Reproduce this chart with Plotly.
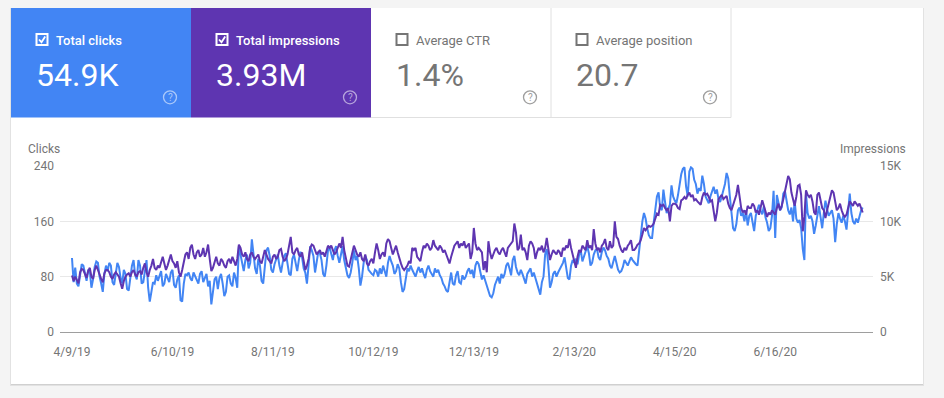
import plotly.graph_objects as go
import pandas as pd

# ---------------- data (daily) ----------------
c_apr19 = [107, 72, 93, 70, 66, 86, 98, 96, 82, 74, 90, 88, 64, 76, 94, 102, 100, 80, 70, 58, 84, 96]
c_may19 = [88, 100, 96, 72, 68, 86, 100, 94, 78, 70, 90, 84, 62, 60, 80, 96, 104, 82, 76, 104, 96, 70, 72, 86, 104, 64, 44, 58, 72, 70, 82]
c_jun19 = [74, 80, 88, 66, 70, 84, 78, 72, 86, 90, 68, 64, 76, 82, 46, 44, 70, 84, 82, 86, 78, 74, 86, 80, 76, 70, 84, 88, 72, 78]
c_jul19 = [84, 66, 74, 40, 56, 76, 80, 62, 78, 84, 70, 52, 58, 80, 82, 70, 66, 86, 78, 64, 124, 110, 96, 88, 104, 112, 92, 100, 134, 116, 92]
c_aug19 = [84, 106, 96, 74, 70, 96, 118, 122, 110, 90, 86, 98, 104, 112, 96, 86, 100, 110, 114, 98, 84, 82, 106, 112, 98, 88, 104, 116, 108, 92, 86]
c_sep19 = [70, 96, 124, 118, 110, 86, 100, 116, 114, 104, 84, 80, 96, 118, 122, 112, 104, 118, 124, 110, 100, 112, 124, 104, 90, 82, 78, 86, 100, 118]
c_oct19 = [104, 110, 92, 67, 80, 100, 110, 104, 90, 86, 84, 82, 90, 88, 80, 92, 84, 96, 86, 80, 100, 110, 102, 96, 84, 88, 98, 92, 72, 58, 62]
c_nov19 = [78, 92, 88, 96, 90, 84, 80, 88, 94, 86, 92, 84, 78, 90, 96, 88, 84, 80, 92, 86, 90, 82, 78, 70, 66, 60, 58, 72, 86, 70]
c_dec19 = [68, 82, 88, 72, 70, 82, 76, 80, 88, 92, 84, 90, 78, 96, 102, 98, 84, 76, 82, 74, 66, 58, 52, 50, 56, 68, 74, 80, 70, 84, 78]
c_jan20 = [84, 96, 100, 92, 82, 104, 110, 94, 86, 82, 90, 84, 76, 70, 84, 88, 92, 80, 86, 78, 70, 60, 54, 72, 80, 112, 120, 96, 64, 72, 84]
c_feb20 = [88, 80, 86, 90, 94, 100, 108, 90, 78, 76, 96, 104, 100, 106, 98, 112, 118, 102, 110, 116, 124, 114, 96, 100, 112, 118, 120, 108, 104]
c_mar20 = [116, 122, 118, 110, 106, 96, 92, 102, 110, 100, 90, 86, 88, 94, 104, 100, 96, 102, 108, 104, 100, 98, 96, 120, 140, 160, 172, 164, 150, 140, 136]
c_apr20 = [136, 158, 178, 196, 202, 180, 176, 206, 188, 172, 178, 184, 212, 196, 190, 186, 198, 214, 228, 236, 238, 210, 196, 232, 238, 236, 220, 214, 200, 208]
c_may20 = [204, 226, 214, 196, 190, 186, 196, 204, 210, 200, 206, 192, 188, 196, 204, 214, 230, 222, 196, 168, 150, 146, 156, 176, 180, 168, 172, 160, 176, 154, 168]
c_jun20 = [172, 160, 146, 168, 178, 184, 176, 170, 182, 166, 158, 146, 150, 168, 204, 136, 198, 186, 176, 180, 200, 204, 188, 176, 170, 180, 160, 190, 164, 158]
c_jul20 = [162, 150, 120, 104, 200, 172, 164, 168, 160, 142, 154, 170, 182, 166, 150, 172, 190, 178, 168, 172, 176, 164, 130, 156, 172, 164, 158, 168, 160, 148, 178]
c_aug20 = [200, 172, 160, 156, 164, 158, 168, 176, 180]

# impressions, in thousands
i_apr19 = [5.1, 4.6, 5.0, 4.7, 4.4, 5.4, 5.7, 5.6, 5.2, 4.9, 5.5, 5.8, 5.0, 4.8, 5.6, 6.0, 5.6, 5.1, 4.8, 4.5, 5.3, 5.6]
i_may19 = [5.6, 5.4, 5.0, 4.8, 5.2, 5.4, 5.2, 5.0, 4.4, 3.9, 4.6, 5.0, 5.2, 5.3, 5.0, 5.4, 5.6, 5.2, 5.0, 5.4, 5.5, 5.2, 5.8, 6.2, 5.4, 5.0, 5.6, 6.0, 6.6, 5.8, 5.6]
i_jun19 = [6.0, 5.8, 6.4, 6.8, 6.2, 5.6, 6.0, 6.6, 7.0, 6.4, 6.2, 5.8, 6.4, 5.4, 5.0, 5.6, 6.4, 7.0, 7.2, 6.6, 7.6, 7.9, 7.0, 6.6, 7.2, 7.4, 6.8, 7.0, 7.6, 6.8]
i_jul19 = [7.2, 7.9, 6.6, 5.5, 5.8, 6.4, 6.8, 6.2, 6.0, 6.6, 6.4, 6.0, 5.8, 6.4, 6.6, 6.2, 6.8, 6.4, 6.0, 6.6, 7.9, 7.6, 7.0, 6.8, 7.2, 6.6, 6.4, 7.0, 7.2, 6.8, 6.6]
i_aug19 = [6.8, 7.0, 6.4, 6.2, 6.8, 7.4, 7.0, 6.6, 6.4, 6.2, 6.8, 7.0, 6.6, 6.8, 7.4, 7.5, 6.8, 6.4, 6.6, 7.0, 7.8, 8.6, 7.2, 7.0, 7.4, 7.6, 7.0, 6.8, 7.2, 6.4, 5.6]
i_sep19 = [6.0, 6.6, 7.6, 7.9, 7.8, 7.4, 7.0, 7.2, 7.4, 7.0, 7.2, 6.8, 7.4, 7.8, 7.6, 7.8, 7.4, 7.0, 7.2, 7.6, 8.0, 7.6, 8.6, 7.4, 6.8, 6.0, 5.9, 6.6, 7.4, 7.8]
i_oct19 = [7.4, 7.0, 6.8, 7.2, 6.6, 6.4, 7.0, 6.2, 6.0, 6.4, 6.6, 6.2, 7.2, 8.0, 7.4, 6.6, 7.0, 7.2, 6.8, 8.0, 8.4, 8.2, 7.6, 7.0, 7.4, 7.8, 7.2, 6.6, 6.2, 5.8, 5.6]
i_nov19 = [5.8, 6.0, 6.4, 6.2, 7.6, 7.4, 7.6, 6.8, 6.6, 6.4, 7.2, 7.8, 7.6, 8.0, 7.8, 7.4, 7.6, 8.3, 7.8, 7.6, 7.4, 7.8, 7.6, 7.2, 7.4, 7.0, 6.6, 6.2, 6.8, 7.4]
i_dec19 = [7.8, 8.0, 8.2, 7.6, 8.0, 7.8, 8.2, 7.6, 7.8, 8.0, 6.6, 7.2, 9.4, 8.0, 7.4, 7.6, 7.4, 7.2, 5.6, 6.4, 5.4, 8.2, 7.2, 6.6, 7.0, 7.4, 7.6, 7.2, 7.0, 7.4, 7.6]
i_jan20 = [7.2, 6.8, 7.6, 7.8, 8.0, 8.2, 9.8, 9.0, 7.4, 7.6, 8.8, 7.4, 7.6, 7.2, 6.5, 7.8, 8.2, 8.0, 7.6, 6.6, 7.2, 7.6, 7.4, 7.8, 7.2, 7.6, 8.5, 7.4, 6.5, 7.0, 7.4]
i_feb20 = [7.2, 7.0, 7.4, 7.2, 6.8, 7.6, 7.4, 7.8, 7.6, 8.4, 7.6, 6.9, 6.4, 5.8, 6.8, 7.4, 7.2, 7.8, 7.6, 7.4, 8.3, 7.6, 7.8, 7.4, 9.3, 8.0, 7.4, 7.6, 7.2]
i_mar20 = [7.8, 8.0, 8.4, 7.6, 7.4, 8.2, 7.6, 7.8, 10.0, 8.6, 8.4, 7.8, 7.4, 7.2, 7.6, 7.4, 7.8, 8.0, 8.3, 7.4, 7.4, 7.6, 7.9, 8.0, 8.3, 8.8, 9.4, 9.2, 9.4, 9.6, 9.5]
i_apr20 = [9.6, 9.8, 10.2, 10.7, 10.6, 11.5, 11.4, 11.5, 11.2, 11.0, 11.2, 10.0, 11.4, 11.6, 11.6, 11.5, 11.2, 11.1, 11.9, 12.0, 12.2, 12.0, 12.4, 12.6, 12.2, 12.4, 11.9, 12.0, 11.8, 11.6]
i_may20 = [11.5, 12.2, 12.6, 12.4, 12.5, 12.2, 11.8, 11.9, 11.0, 10.0, 10.8, 12.0, 12.2, 12.4, 12.0, 12.2, 12.3, 11.6, 11.2, 11.0, 11.4, 11.8, 12.4, 13.3, 12.0, 11.2, 10.8, 11.0, 10.6, 11.4, 11.2]
i_jun20 = [11.2, 11.6, 11.4, 10.8, 11.0, 10.6, 11.2, 11.9, 11.4, 10.8, 10.4, 10.8, 10.6, 11.0, 10.8, 10.6, 11.2, 11.6, 11.0, 11.4, 12.0, 12.8, 13.6, 14.1, 13.8, 12.6, 12.0, 11.4, 12.2, 13.2]
i_jul20 = [13.3, 12.4, 9.1, 10.4, 12.8, 12.4, 12.2, 12.4, 11.8, 10.8, 10.6, 12.4, 12.6, 12.0, 11.2, 11.0, 10.3, 11.0, 11.6, 12.2, 12.8, 12.6, 11.6, 11.0, 11.2, 11.6, 11.0, 10.6, 10.4, 10.6, 11.2]
i_aug20 = [11.8, 11.6, 11.4, 11.8, 11.6, 11.4, 11.6, 11.2, 10.8]

start_date = "2019-04-09"
tick_dates = ["2019-04-09", "2019-06-10", "2019-08-11", "2019-10-12",
              "2019-12-13", "2020-02-13", "2020-04-15", "2020-06-16"]
tick_labels = ["4/9/19", "6/10/19", "8/11/19", "10/12/19",
               "12/13/19", "2/13/20", "4/15/20", "6/16/20"]
click_ticks = [0, 80, 160, 240]
impr_ticks = [0, 5000, 10000, 15000]
impr_tick_labels = ["0", "5K", "10K", "15K"]

kpi_labels = ["Total clicks", "Total impressions", "Average CTR", "Average position"]
kpi_values = ["54.9K", "3.93M", "1.4%", "20.7"]
kpi_selected = [True, True, False, False]

# ---------------- assemble series ----------------
clicks = (c_apr19 + c_may19 + c_jun19 + c_jul19 + c_aug19 + c_sep19 + c_oct19 + c_nov19
          + c_dec19 + c_jan20 + c_feb20 + c_mar20 + c_apr20 + c_may20 + c_jun20 + c_jul20 + c_aug20)
impr_k = (i_apr19 + i_may19 + i_jun19 + i_jul19 + i_aug19 + i_sep19 + i_oct19 + i_nov19
          + i_dec19 + i_jan20 + i_feb20 + i_mar20 + i_apr20 + i_may20 + i_jun20 + i_jul20 + i_aug20)
impressions = [v * 1000 for v in impr_k]
dates_c = pd.date_range(start_date, periods=len(clicks), freq="D")
dates_i = pd.date_range(start_date, periods=len(impressions), freq="D")

BLUE = "#4285f4"
PURPLE = "#5e35b1"
GREY_TXT = "#757575"
FONT = "Roboto, Arial, sans-serif"

# ---------------- geometry ----------------
W, H = 944, 398
L, R, T, B = 60, 873, 166, 332


def X(px):
    return (px - L) / (R - L)


def Y(py):
    return (B - py) / (B - T)


shapes = []
annotations = []


def rect(x0, y0, x1, y1, fill=None, line=None, lw=0):
    shapes.append(dict(type="rect", xref="paper", yref="paper",
                       x0=X(x0), x1=X(x1), y0=Y(y1), y1=Y(y0),
                       fillcolor=fill if fill else "rgba(0,0,0,0)",
                       line=dict(color=line if line else "rgba(0,0,0,0)", width=lw),
                       layer="below"))


def hline(x0, x1, y, color, lw=1):
    shapes.append(dict(type="line", xref="paper", yref="paper",
                       x0=X(x0), x1=X(x1), y0=Y(y), y1=Y(y),
                       line=dict(color=color, width=lw), layer="below"))


def vline(x, y0, y1, color, lw=1):
    shapes.append(dict(type="line", xref="paper", yref="paper",
                       x0=X(x), x1=X(x), y0=Y(y0), y1=Y(y1),
                       line=dict(color=color, width=lw), layer="below"))


def text(x, y, s, size, color, xanchor="left", weight=None):
    f = dict(family=FONT, size=size, color=color)
    if weight:
        f["weight"] = weight
    annotations.append(dict(x=X(x), y=Y(y), xref="paper", yref="paper", text=s,
                            showarrow=False, xanchor=xanchor, yanchor="middle",
                            font=f, borderpad=0))


# card shadow + card
rect(10, 8, 924, 386, fill="rgba(0,0,0,0.07)")
rect(11, 8, 923, 385, fill="rgba(0,0,0,0.08)")
rect(11, 8, 923, 384, fill="#ffffff")

# KPI tiles
tile_w = 180
for k in range(4):
    x0 = 11 + k * tile_w
    sel = kpi_selected[k]
    if sel:
        rect(x0, 8, x0 + tile_w, 117.5, fill=BLUE if k == 0 else PURPLE)
        fg = "#ffffff"
        icon = "rgba(255,255,255,0.55)"
    else:
        fg = GREY_TXT
        icon = "#9e9e9e"
    # checkbox
    rect(x0 + 25.5, 34, x0 + 36.5, 45, line=fg, lw=2)
    if sel:
        shapes.append(dict(type="path", xref="paper", yref="paper",
                           path="M {} {} L {} {} L {} {}".format(
                               X(x0 + 28), Y(39.5), X(x0 + 30.5), Y(42.2), X(x0 + 34.2), Y(36.6)),
                           line=dict(color=fg, width=1.8), layer="below"))
    text(x0 + 43.5, 40, kpi_labels[k], 13, fg, weight=500 if sel else None)
    text(x0 + 24, 75, kpi_values[k], 32, fg)
    # help icon
    shapes.append(dict(type="circle", xref="paper", yref="paper",
                       x0=X(x0 + 152.5), x1=X(x0 + 165.5), y0=Y(103.8), y1=Y(90.8),
                       line=dict(color=icon, width=1.3), layer="below"))
    text(x0 + 159, 97.6, "?", 10, icon, xanchor="center")

# borders of the unselected tiles
hline(371, 731, 117.5, "#e0e0e0")
vline(551, 8, 117.5, "#e0e0e0")
vline(731, 8, 117.5, "#e0e0e0")

# axis titles
text(27, 148.5, "Clicks", 12, GREY_TXT)
text(906.5, 148.5, "Impressions", 12, GREY_TXT, xanchor="right")

# ---------------- figure ----------------
fig = go.Figure()
fig.add_trace(go.Scatter(x=dates_i, y=impressions, mode="lines", yaxis="y2",
                         line=dict(color=PURPLE, width=2), hoverinfo="skip",
                         name="Impressions"))
fig.add_trace(go.Scatter(x=dates_c, y=clicks, mode="lines", yaxis="y",
                         line=dict(color=BLUE, width=2), hoverinfo="skip",
                         name="Clicks"))

fig.update_layout(
    width=W, height=H, autosize=False,
    margin=dict(l=L, r=W - R, t=T, b=H - B, pad=0),
    paper_bgcolor="#f4f4f4",
    plot_bgcolor="rgba(0,0,0,0)",
    showlegend=False,
    font=dict(family=FONT, size=12, color=GREY_TXT),
    shapes=shapes,
    annotations=annotations,
    xaxis=dict(type="date", range=["2019-04-01 14:24", "2020-08-15 08:24"],
               tickvals=tick_dates, ticktext=tick_labels, showgrid=False,
               ticks="", showline=True, linecolor="#9e9e9e", linewidth=1,
               zeroline=False, ticklabelstandoff=9,
               tickfont=dict(family=FONT, size=12, color=GREY_TXT)),
    yaxis=dict(range=[0, 240], tickvals=click_ticks, showgrid=True,
               gridcolor="#e8e8e8", gridwidth=1, zeroline=False, ticks="",
               showline=False, ticklabelstandoff=5,
               tickfont=dict(family=FONT, size=12, color=GREY_TXT)),
    yaxis2=dict(range=[0, 15000], tickvals=impr_ticks, ticktext=impr_tick_labels,
                overlaying="y", side="right", showgrid=False, zeroline=False,
                ticks="", showline=False, ticklabelstandoff=6,
                tickfont=dict(family=FONT, size=12, color=GREY_TXT)),
)

fig.write_html("out.html", include_plotlyjs=True,
               config={"displayModeBar": False, "staticPlot": True},
               post_script="document.body.style.margin='0px';")
